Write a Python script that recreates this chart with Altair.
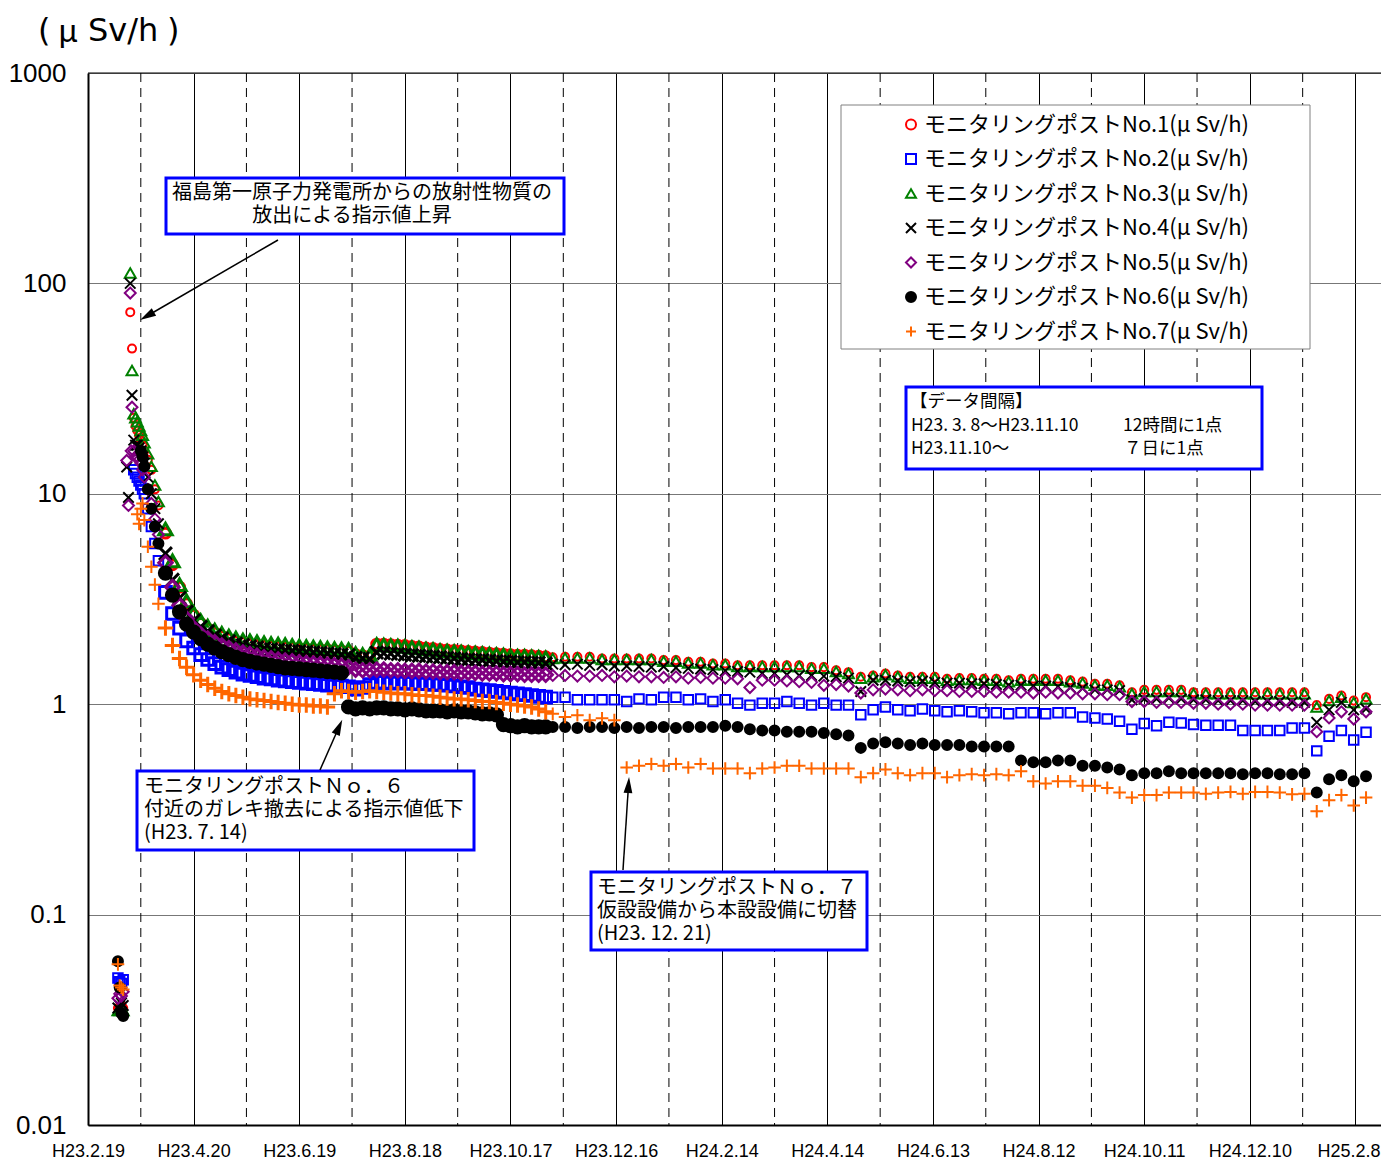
import pandas as pd
import altair as alt

# ---------------- data ----------------
START = "2011-02-19"
TICK_DATES = ["2011-02-19", "2011-04-20", "2011-06-19", "2011-08-18", "2011-10-17", "2011-12-16",
              "2012-02-14", "2012-04-14", "2012-06-13", "2012-08-12", "2012-10-11", "2012-12-10",
              "2013-02-08"]
MID_DATES = ["2011-03-21", "2011-05-20", "2011-07-19", "2011-09-17", "2011-11-16", "2012-01-15",
             "2012-03-15", "2012-05-14", "2012-07-13", "2012-09-11", "2012-11-10", "2013-01-09"]
Y_TICKS = [0.01, 0.1, 1, 10, 100, 1000]

# sample days (days after 2011-02-19)
PRE_DAYS = [17, 18, 19, 20]
EARLY_DAYS = [22, 23, 24, 24.5, 25, 26, 27, 28, 29, 30, 31, 32, 34, 36, 38, 40]
MAIN_DAYS = list(range(44, 261, 4))
WEEKLY_DAYS = list(range(264, 727, 7))

NAMES = ["モニタリングポストNo.1(μ Sv/h)", "モニタリングポストNo.2(μ Sv/h)",
         "モニタリングポストNo.3(μ Sv/h)", "モニタリングポストNo.4(μ Sv/h)",
         "モニタリングポストNo.5(μ Sv/h)", "モニタリングポストNo.6(μ Sv/h)",
         "モニタリングポストNo.7(μ Sv/h)"]

NO1_PRE = [0.036, 0.036, 0.037, 0.036]
NO1_EARLY = [None, None, 73, None, 49, 23, 21, 20, 19, 18, 17, 16, 14.5, 13, 10.5, 8.8]
NO1_MAIN = [6.5, 4.6, 3.6, 3.0, 2.65,
            2.42, 2.28, 2.18, 2.1, 2.04,
            1.99, 1.96, 1.93, 1.91, 1.89,
            1.88, 1.87, 1.86, 1.85, 1.84,
            1.83, 1.82, 1.81, 1.81, 1.80,
            1.79, 1.78, 1.72, 1.70, 1.69,
            1.93, 1.93, 1.92, 1.91, 1.90,
            1.88, 1.87, 1.85, 1.84, 1.82,
            1.81, 1.80, 1.79, 1.78, 1.77,
            1.76, 1.75, 1.74, 1.73, 1.72,
            1.71, 1.71, 1.70, 1.69, 1.68]
NO1_WEEKLY = [1.67, 1.68, 1.68, 1.68, 1.65, 1.65, 1.65, 1.65, 1.65, 1.62,
              1.62, 1.59, 1.59, 1.56, 1.56, 1.53, 1.53, 1.53, 1.53, 1.53,
              1.53, 1.50, 1.50, 1.45, 1.42, 1.35, 1.37, 1.40, 1.37, 1.35,
              1.35, 1.35, 1.32, 1.33, 1.33, 1.32, 1.32, 1.30, 1.32, 1.32,
              1.32, 1.32, 1.30, 1.28, 1.25, 1.25, 1.23, 1.14, 1.17, 1.17,
              1.17, 1.17, 1.14, 1.14, 1.14, 1.14, 1.14, 1.14, 1.14, 1.14,
              1.14, 1.14, 0.99, 1.06, 1.10, 1.04, 1.08]

NO2_PRE = [0.050, 0.048, 0.047, 0.049]
NO2_EARLY = [None, None, None, None, None, 13, 12.5, 12, 11.5, 11, 10.5, 10, 8.5, 7.0, 5.8, 4.8]
NO2_MAIN = [3.4, 2.7, 2.3, 2.0, 1.85,
            1.72, 1.63, 1.56, 1.50, 1.46,
            1.42, 1.39, 1.37, 1.35, 1.33,
            1.32, 1.30, 1.29, 1.28, 1.27,
            1.26, 1.25, 1.24, 1.23, 1.22,
            1.22, 1.21, 1.18, 1.20, 1.24,
            1.27, 1.27, 1.26, 1.27, 1.26,
            1.26, 1.25, 1.25, 1.24, 1.24,
            1.23, 1.22, 1.21, 1.20, 1.18,
            1.17, 1.16, 1.15, 1.14, 1.13,
            1.12, 1.11, 1.10, 1.09, 1.08]
NO2_WEEKLY = [1.08, 1.08, 1.05, 1.05, 1.05, 1.05, 1.03, 1.06, 1.05, 1.08,
              1.08, 1.05, 1.06, 1.03, 1.05, 1.01, 0.99, 1.01, 1.01, 1.03,
              1.01, 0.99, 1.01, 0.99, 0.99, 0.89, 0.94, 0.97, 0.94, 0.93,
              0.95, 0.93, 0.92, 0.93, 0.92, 0.91, 0.91, 0.90, 0.91, 0.91,
              0.90, 0.91, 0.91, 0.87, 0.86, 0.85, 0.83, 0.76, 0.81, 0.79,
              0.82, 0.815, 0.80, 0.795, 0.795, 0.795, 0.75, 0.75, 0.75, 0.75,
              0.77, 0.77, 0.60, 0.705, 0.75, 0.675, 0.735]

NO3_PRE = [0.035, 0.035, 0.036, 0.035]
NO3_EARLY = [None, None, 112, None, 38.6, 24, 23, 22, 21, 20, 19, 17.5, 15.5, 13.5, 11, 9.2]
NO3_MAIN = [6.8, 4.8, 3.7, 3.1, 2.72,
            2.5, 2.35, 2.25, 2.17, 2.11,
            2.06, 2.02, 2.0, 1.98, 1.96,
            1.94, 1.93, 1.92, 1.90, 1.89,
            1.88, 1.87, 1.86, 1.85, 1.84,
            1.83, 1.82, 1.74, 1.72, 1.71,
            1.92, 1.91, 1.90, 1.89, 1.88,
            1.86, 1.85, 1.83, 1.82, 1.80,
            1.79, 1.78, 1.77, 1.76, 1.75,
            1.74, 1.73, 1.72, 1.71, 1.70,
            1.69, 1.69, 1.68, 1.67, 1.66]
NO3_WEEKLY = [1.65, 1.66, 1.66, 1.66, 1.63, 1.63, 1.63, 1.63, 1.63, 1.60,
              1.60, 1.57, 1.57, 1.54, 1.54, 1.51, 1.51, 1.51, 1.51, 1.51,
              1.51, 1.48, 1.48, 1.43, 1.40, 1.33, 1.35, 1.38, 1.35, 1.33,
              1.33, 1.33, 1.30, 1.31, 1.31, 1.30, 1.30, 1.28, 1.30, 1.30,
              1.30, 1.30, 1.28, 1.26, 1.23, 1.23, 1.21, 1.12, 1.15, 1.15,
              1.15, 1.15, 1.12, 1.12, 1.12, 1.12, 1.12, 1.12, 1.12, 1.12,
              1.12, 1.12, 0.97, 1.04, 1.08, 1.02, 1.06]

NO4_PRE = [0.036, 0.037, 0.038, 0.037]
NO4_EARLY = [13.4, 9.6, 100, None, 29.4, 18, 17, 17, 16.5, 16, 15, 14, 12, 10, 8.5, 7.2]
NO4_MAIN = [5.2, 3.9, 3.2, 2.75, 2.5,
            2.33, 2.22, 2.12, 2.05, 1.99,
            1.94, 1.91, 1.88, 1.86, 1.84,
            1.82, 1.81, 1.80, 1.79, 1.78,
            1.77, 1.76, 1.75, 1.74, 1.73,
            1.72, 1.71, 1.66, 1.65, 1.64,
            1.76, 1.75, 1.74, 1.73, 1.72,
            1.71, 1.70, 1.69, 1.68, 1.67,
            1.66, 1.65, 1.64, 1.63, 1.62,
            1.62, 1.61, 1.60, 1.59, 1.59,
            1.58, 1.58, 1.57, 1.57, 1.56]
NO4_WEEKLY = [1.55, 1.54, 1.55, 1.53, 1.54, 1.52, 1.52, 1.51, 1.50, 1.51,
              1.49, 1.48, 1.47, 1.46, 1.44, 1.43, 1.42, 1.40, 1.40, 1.38,
              1.37, 1.37, 1.36, 1.35, 1.33, 1.15, 1.30, 1.30, 1.29, 1.28,
              1.29, 1.27, 1.26, 1.26, 1.25, 1.25, 1.24, 1.23, 1.23, 1.22,
              1.22, 1.21, 1.20, 1.19, 1.17, 1.17, 1.16, 1.05, 1.06, 1.06,
              1.07, 1.06, 1.05, 1.05, 1.04, 1.04, 1.04, 1.03, 1.03, 1.03,
              1.02, 1.02, 0.82, 0.94, 1.02, 0.94, 0.95]

NO5_PRE = [0.040, 0.042, 0.041, 0.043]
NO5_EARLY = [14.4, 8.8, 90, 16, 25.8, 16, 15, 15, 14.5, 14, 13, 12, 10.5, 9, 7.6, 6.4]
NO5_MAIN = [4.7, 3.6, 2.95, 2.55, 2.3,
            2.15, 2.05, 1.97, 1.9, 1.85,
            1.8, 1.76, 1.73, 1.7, 1.67,
            1.65, 1.63, 1.61, 1.6, 1.58,
            1.57, 1.56, 1.55, 1.54, 1.53,
            1.52, 1.50, 1.46, 1.45, 1.45,
            1.46, 1.46, 1.45, 1.45, 1.44,
            1.44, 1.44, 1.43, 1.43, 1.42,
            1.42, 1.42, 1.41, 1.41, 1.41,
            1.40, 1.40, 1.40, 1.39, 1.39,
            1.39, 1.38, 1.38, 1.38, 1.38]
NO5_WEEKLY = [1.37, 1.37, 1.36, 1.36, 1.37, 1.35, 1.36, 1.35, 1.35, 1.34,
              1.35, 1.33, 1.34, 1.33, 1.33, 1.32, 1.20, 1.30, 1.30, 1.29,
              1.28, 1.27, 1.23, 1.24, 1.22, 1.13, 1.17, 1.18, 1.17, 1.16,
              1.17, 1.16, 1.16, 1.15, 1.15, 1.15, 1.14, 1.14, 1.14, 1.13,
              1.14, 1.13, 1.13, 1.12, 1.12, 1.11, 1.11, 1.03, 1.03, 1.02,
              1.02, 1.02, 1.01, 1.01, 1.00, 1.00, 1.00, 0.99, 0.99, 0.99,
              0.99, 0.99, 0.74, 0.86, 0.92, 0.85, 0.92]

NO6_PRE = [0.060, 0.045, 0.034, 0.033]
NO6_EARLY = [None, None, None, None, None, None, None, None, None, 16, 15, 13.5, 10.5, 8.5, 7.0, 5.8]
NO6_MAIN = [4.2, 3.3, 2.75, 2.4, 2.2,
            2.05, 1.93, 1.85, 1.78, 1.72,
            1.67, 1.63, 1.6, 1.57, 1.55,
            1.53, 1.51, 1.49, 1.48, 1.47,
            1.46, 1.45, 1.44, 1.43, 1.42,
            1.41, 0.97, 0.95, 0.96, 0.95,
            0.96, 0.96, 0.95, 0.95, 0.94,
            0.95, 0.94, 0.93, 0.93, 0.93,
            0.92, 0.93, 0.92, 0.92, 0.91,
            0.90, 0.90, 0.89, 0.80, 0.79,
            0.78, 0.79, 0.78, 0.78, 0.78]
NO6_WEEKLY = [0.78, 0.78, 0.77, 0.78, 0.78, 0.77, 0.78, 0.77, 0.78, 0.78,
              0.77, 0.78, 0.78, 0.78, 0.79, 0.78, 0.76, 0.75, 0.75, 0.74,
              0.74, 0.74, 0.73, 0.72, 0.71, 0.62, 0.65, 0.66, 0.65, 0.64,
              0.65, 0.64, 0.64, 0.64, 0.63, 0.63, 0.63, 0.63, 0.54, 0.53,
              0.53, 0.54, 0.54, 0.51, 0.51, 0.50, 0.49, 0.46, 0.47, 0.47,
              0.48, 0.47, 0.47, 0.47, 0.47, 0.47, 0.465, 0.47, 0.47, 0.465,
              0.465, 0.47, 0.38, 0.44, 0.46, 0.43, 0.455]

NO7_PRE = [0.058, 0.046, 0.045, 0.044]
NO7_EARLY = [None, None, None, None, None, None, None, 8.0, 7.2, 8.5, 9.0, 7.5, 5.6, 4.5, 3.7, 3.0]
NO7_MAIN = [2.3, 1.9, 1.65, 1.5, 1.38,
            1.30, 1.24, 1.19, 1.15, 1.12,
            1.10, 1.08, 1.06, 1.05, 1.04,
            1.03, 1.02, 1.01, 1.00, 0.99,
            0.99, 0.98, 0.98, 0.97, 1.12,
            1.16, 1.15, 1.14, 1.15, 1.16,
            1.15, 1.14, 1.13, 1.12, 1.12,
            1.11, 1.10, 1.10, 1.09, 1.08,
            1.07, 1.06, 1.06, 1.05, 1.04,
            1.03, 1.03, 1.02, 1.01, 1.00,
            0.99, 0.98, 0.97, 0.95, 0.92]
NO7_WEEKLY = [0.90, 0.87, 0.886, 0.84, 0.857, 0.84, 0.50, 0.51, 0.52, 0.51,
              0.52, 0.50, 0.52, 0.495, 0.495, 0.495, 0.47, 0.495, 0.50, 0.51,
              0.51, 0.495, 0.495, 0.495, 0.495, 0.45, 0.47, 0.49, 0.47, 0.46,
              0.47, 0.47, 0.45, 0.46, 0.465, 0.46, 0.465, 0.46, 0.48, 0.43,
              0.42, 0.43, 0.43, 0.41, 0.41, 0.40, 0.38, 0.36, 0.37, 0.37,
              0.38, 0.38, 0.38, 0.375, 0.38, 0.383, 0.375, 0.383, 0.383, 0.38,
              0.373, 0.375, 0.31, 0.35, 0.37, 0.33, 0.36]

SERIES = [
    (NO1_PRE, NO1_EARLY, NO1_MAIN, NO1_WEEKLY),
    (NO2_PRE, NO2_EARLY, NO2_MAIN, NO2_WEEKLY),
    (NO3_PRE, NO3_EARLY, NO3_MAIN, NO3_WEEKLY),
    (NO4_PRE, NO4_EARLY, NO4_MAIN, NO4_WEEKLY),
    (NO5_PRE, NO5_EARLY, NO5_MAIN, NO5_WEEKLY),
    (NO6_PRE, NO6_EARLY, NO6_MAIN, NO6_WEEKLY),
    (NO7_PRE, NO7_EARLY, NO7_MAIN, NO7_WEEKLY),
]
PERIODS = ["pre", "early", "main", "weekly"]

# ---------------- table ----------------
t0 = pd.Timestamp(START)
rows = []
for name, parts in zip(NAMES, SERIES):
    for period, days, vals in zip(PERIODS, [PRE_DAYS, EARLY_DAYS, MAIN_DAYS, WEEKLY_DAYS], parts):
        for d, v in zip(days, vals):
            if v is not None:
                rows.append({"date": t0 + pd.Timedelta(hours=24 * d), "value": v,
                             "series": name, "period": period})
df = pd.DataFrame(rows)

# ---------------- styles ----------------
W, H = 1293, 1052
OX, OY = 88, 73  # plot origin on page
COLORS = ["#FF0000", "#0000FF", "#008000", "#000000", "#800080", "#000000", "#FF6600"]
FILLS = ["transparent", "transparent", "transparent", "transparent", "transparent", "#000000", "transparent"]
SHAPES = ["circle", "square", "triangle-up", "M-1,-1L1,1M-1,1L1,-1", "diamond", "circle",
          "M-1,0L1,0M0,-1L0,1"]
SIZES = [65, 90, 120, 110, 120, 100, 160]
JP = "Noto Sans CJK JP"


def dt(s, hours=0):
    y, m, d = [int(p) for p in s.split("-")]
    return alt.DateTime(year=y, month=m, date=d, hours=hours)


xs = alt.Scale(domain=[dt("2011-02-19"), dt("2013-02-22", 12)])
ys = alt.Scale(type="log", domain=[0.01, 1000])

x_axis = alt.Axis(
    title=None, values=[dt(s) for s in TICK_DATES],
    labelExpr="'H' + (year(datum.value) - 1988) + '.' + (month(datum.value) + 1) + '.' + date(datum.value)",
    grid=True, gridColor="#000000", gridWidth=1, gridOpacity=1, ticks=False, tickSize=0,
    domainColor="#000000", domainWidth=2, labelFont="Liberation Sans", labelFontSize=18,
    labelColor="#000000", labelPadding=17, labelFlush=False, labelOverlap=False,
    labelOffset={"condition": {"test": "datum.value > toDate('2013-01-01')", "value": -7}, "value": 0})
y_axis = alt.Axis(
    title=None, values=Y_TICKS, format="~g", grid=True, gridColor="#777777", gridWidth=1,
    gridOpacity=1, ticks=False, tickSize=0, domainColor="#000000", domainWidth=2,
    labelFont="Liberation Sans", labelFontSize=26, labelColor="#000000", labelPadding=22,
    labelFlush=False, labelOverlap=False)

legend = alt.Legend(title=None, orient="none", legendX=812, legendY=40.5, labelFont=JP,
                    labelFontSize=22, labelColor="#000000", symbolStrokeWidth=2, symbolSize=100,
                    rowPadding=12.5, labelOffset=2, labelLimit=600, padding=0)

X = alt.X("date:T", scale=xs, axis=x_axis)
Y = alt.Y("value:Q", scale=ys, axis=y_axis)
C = alt.Color("series:N", scale=alt.Scale(domain=NAMES, range=COLORS), legend=legend)
S = alt.Shape("series:N", scale=alt.Scale(domain=NAMES, range=SHAPES), legend=legend)
F = alt.Fill("series:N", scale=alt.Scale(domain=NAMES, range=FILLS), legend=legend)
is_main = alt.datum.period == "main"

mid = alt.Chart(pd.DataFrame({"date": pd.to_datetime(MID_DATES)})).mark_rule(
    color="#000000", strokeDash=[9, 6], strokeWidth=1).encode(x=X)

one = pd.DataFrame({"a": [0]})
top_line = alt.Chart(one).mark_rule(color="#000000", strokeWidth=1).encode(
    x=alt.value(0), x2=alt.value(W), y=alt.value(0))

point_layers = []
for i, name in enumerate(NAMES):
    point_layers.append(
        alt.Chart(df).transform_filter(alt.datum.series == name).mark_point(
            filled=False, opacity=1).encode(
            x=X, y=Y, color=C, shape=S, fill=F,
            size=alt.condition(is_main, alt.value(SIZES[i] * 1.5), alt.value(SIZES[i])),
            strokeWidth=alt.condition(is_main, alt.value(3), alt.value(2))))


def box(x1, y1, x2, y2, stroke="#0000FF", sw=3):
    return alt.Chart(one).mark_rect(fill="white", stroke=stroke, strokeWidth=sw).encode(
        x=alt.value(x1 - OX), x2=alt.value(x2 - OX), y=alt.value(y1 - OY), y2=alt.value(y2 - OY))


def txt(x, y, s, size=20, align="left", font=JP):
    return alt.Chart(one).mark_text(align=align, baseline="middle", font=font, fontSize=size,
                                    color="#000000").encode(
        x=alt.value(x - OX), y=alt.value(y - OY), text=alt.value(s))


def arrow(x1, y1, x2, y2, angle, hx, hy):
    line = alt.Chart(one).mark_rule(color="#000000", strokeWidth=1.5).encode(
        x=alt.value(x1 - OX), y=alt.value(y1 - OY), x2=alt.value(hx - OX), y2=alt.value(hy - OY))
    head = alt.Chart(one).mark_point(shape="M0,-1L0.55,1L-0.55,1Z", filled=True, color="#000000",
                                     opacity=1, size=256, angle=angle).encode(
        x=alt.value(hx - OX), y=alt.value(hy - OY))
    return [line, head]


annots = []
annots.append(box(841, 105, 1310, 349, stroke="#808080", sw=1))
annots.append(box(166, 178, 564, 234))
annots.append(txt(362, 193, "福島第一原子力発電所からの放射性物質の", align="center"))
annots.append(txt(352, 216, "放出による指示値上昇", align="center"))
annots.append(box(137, 771, 474, 850))
annots.append(txt(144, 787, "モニタリングポストＮｏ．６"))
annots.append(txt(144, 810, "付近のガレキ撤去による指示値低下"))
annots.append(txt(144, 833, "(H23. 7. 14)"))
annots.append(box(591, 872, 867, 950))
annots.append(txt(597, 888, "モニタリングポストＮｏ．７"))
annots.append(txt(597, 911, "仮設設備から本設設備に切替"))
annots.append(txt(597, 934, "(H23. 12. 21)"))
annots.append(box(906, 387, 1262, 469))
annots.append(txt(910, 402, "【データ間隔】", size=17.5))
annots.append(txt(911, 426, "H23. 3. 8～H23.11.10", size=17.5))
annots.append(txt(1123, 426, "12時間に1点", size=17.5))
annots.append(txt(911, 449, "H23.11.10～", size=17.5))
annots.append(txt(1124, 449, "７日に1点", size=17.5))
# unit label
annots.append(txt(38, 31, "(", size=32, font="DejaVu Sans"))
annots.append(txt(58, 32, "μ", size=32, font=JP))
annots.append(txt(88, 31, "Sv/h", size=32, font="DejaVu Sans"))
annots.append(txt(167, 31, ")", size=32, font="DejaVu Sans"))
annots += arrow(278, 240, 140, 320, 240, 147, 316)
annots += arrow(320, 770, 342, 720, 24, 339, 727)
annots += arrow(623, 870, 629, 777, 4, 628.5, 785)

chart = alt.layer(mid, *point_layers, top_line, *annots).properties(
    width=W, height=H,
    padding={"left": 80, "top": 65, "right": 0, "bottom": 35},
    autosize=alt.AutoSizeParams(type="none"),
).configure_view(stroke=None)

chart.save("out.html", embed_options={"renderer": "svg", "actions": False})
